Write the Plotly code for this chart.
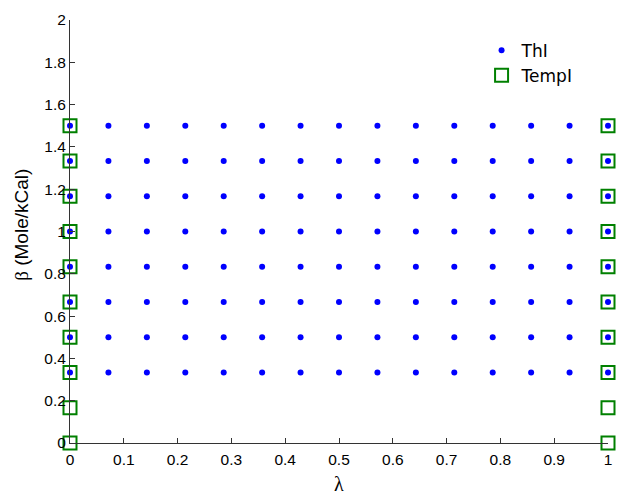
import plotly.graph_objects as go

# data
thi_x = [0, 1/14, 2/14, 3/14, 4/14, 5/14, 6/14, 7/14, 8/14, 9/14, 10/14, 11/14, 12/14, 13/14, 1]
thi_y_levels = [1/3, 1/2, 2/3, 5/6, 1.0, 7/6, 4/3, 1.5]
tempi_x_levels = [0, 1]
tempi_y_levels = [0, 1/6, 1/3, 1/2, 2/3, 5/6, 1.0, 7/6, 4/3, 1.5]
x_ticks = [0, 0.1, 0.2, 0.3, 0.4, 0.5, 0.6, 0.7, 0.8, 0.9, 1]
x_tick_labels = ["0", "0.1", "0.2", "0.3", "0.4", "0.5", "0.6", "0.7", "0.8", "0.9", "1"]
y_ticks = [0, 0.2, 0.4, 0.6, 0.8, 1, 1.2, 1.4, 1.6, 1.8, 2]
y_tick_labels = ["0", "0.2", "0.4", "0.6", "0.8", "1", "1.2", "1.4", "1.6", "1.8", "2"]

tx, ty = [], []
for yv in thi_y_levels:
    for xv in thi_x:
        tx.append(xv)
        ty.append(yv)
sx, sy = [], []
for xv in tempi_x_levels:
    for yv in tempi_y_levels:
        sx.append(xv)
        sy.append(yv)

fig = go.Figure()
fig.add_trace(go.Scatter(x=tx, y=ty, mode="markers", name="ThI",
                         marker=dict(color="#0000ff", size=6, line=dict(width=0)),
                         cliponaxis=False))
fig.add_trace(go.Scatter(x=sx, y=sy, mode="markers", name="TempI",
                         marker=dict(symbol="square-open", color="#008000", size=13,
                                     line=dict(width=2, color="#008000")),
                         cliponaxis=False))

fig.update_layout(
    width=618, height=494,
    margin=dict(l=70, r=10, t=20, b=51),
    plot_bgcolor="white", paper_bgcolor="white",
    font=dict(family="Liberation Sans, Arial, sans-serif", size=15.5, color="black"),
    showlegend=True,
    legend=dict(x=0.765, y=0.97, xanchor="left", yanchor="top",
                bgcolor="rgba(0,0,0,0)",
                font=dict(family="DejaVu Sans", size=17, color="black"),
                itemwidth=30),
    xaxis=dict(range=[0, 1], tickvals=x_ticks, ticktext=x_tick_labels,
               showgrid=False, zeroline=False, showline=True, linecolor="#333333",
               linewidth=1, ticks="inside", ticklen=5, tickcolor="#333333",
               automargin=False, ticklabelstandoff=2),
    yaxis=dict(range=[0, 2], tickvals=y_ticks, ticktext=y_tick_labels,
               showgrid=False, zeroline=False, showline=True, linecolor="#333333",
               linewidth=1, ticks="inside", ticklen=5, tickcolor="#333333",
               automargin=False),
    annotations=[
        dict(text='<span style="font-family:Liberation Serif">λ</span>',
             xref="paper", yref="paper", x=0.5, y=-0.098, xanchor="center",
             yanchor="middle", showarrow=False, font=dict(size=20)),
        dict(text='<span style="font-family:Liberation Serif">β</span> (Mole/kCal)',
             xref="paper", yref="paper", x=-0.09, y=0.515, xanchor="center",
             yanchor="middle", textangle=-90, showarrow=False, font=dict(size=19)),
    ],
)
fig.write_html("out.html", config={"displayModeBar": False},
               post_script="document.body.style.margin='0';")
